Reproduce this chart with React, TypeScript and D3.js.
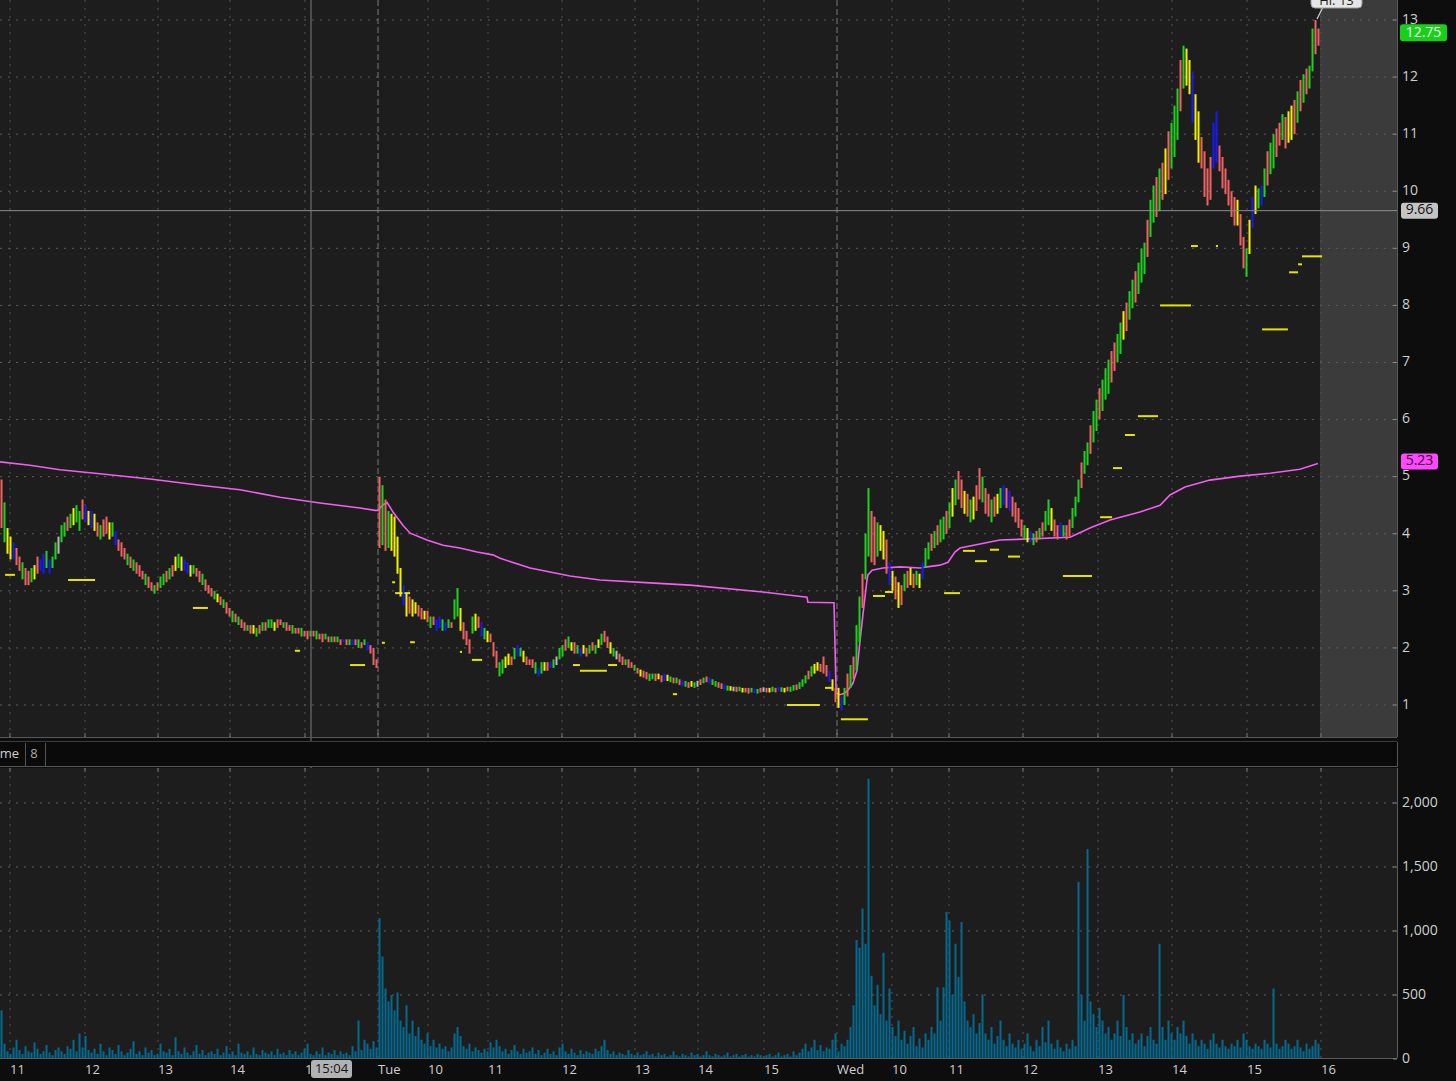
import React from 'react';
import * as d3 from 'd3';

// ---------- DATA ----------
// bar lows / highs per time slot (Mon, Tue, Wed)
const monLo = [4.10,3.85,3.65,3.55,3.55,3.45,3.35,3.20,3.10,3.10,
3.15,3.20,3.30,3.35,3.30,3.40,3.30,3.40,3.55,3.65,
3.85,3.95,4.05,4.10,4.15,4.20,4.05,4.25,4.20,4.15,
4.10,4.05,3.95,3.90,3.95,4.00,3.90,3.95,3.80,3.70,
3.60,3.55,3.45,3.40,3.35,3.30,3.25,3.20,3.10,3.05,
3.00,2.95,3.00,3.05,3.10,3.15,3.20,3.25,3.35,3.40,
3.35,3.35,3.30,3.25,3.30,3.25,3.15,3.10,3.00,2.95,
2.90,2.85,2.80,2.75,2.70,2.60,2.55,2.45,2.45,2.40,
2.35,2.30,2.30,2.25,2.25,2.20,2.25,2.30,2.30,2.35,
2.35,2.30,2.35,2.40,2.35,2.30,2.30,2.25,2.25,2.25,
2.20,2.20,2.15,2.20,2.20,2.15,2.15,2.10,2.15,2.10,
2.10,2.10,2.10,2.05,2.10,2.05,2.05,2.05,2.05,2.00,
2.00,2.05,1.95,1.90,1.70,1.65];
const monHi = [4.95,4.55,4.10,3.95,3.85,3.75,3.60,3.50,3.40,3.35,
3.40,3.45,3.60,3.55,3.65,3.70,3.55,3.60,3.85,3.95,
4.15,4.20,4.30,4.35,4.45,4.50,4.40,4.60,4.50,4.40,
4.40,4.35,4.20,4.15,4.25,4.30,4.20,4.20,4.05,3.90,
3.85,3.75,3.65,3.60,3.55,3.50,3.45,3.35,3.30,3.25,
3.15,3.10,3.15,3.25,3.30,3.35,3.40,3.45,3.60,3.65,
3.60,3.55,3.50,3.45,3.45,3.40,3.35,3.30,3.20,3.10,
3.05,3.00,2.95,2.90,2.85,2.80,2.70,2.65,2.60,2.55,
2.50,2.45,2.40,2.40,2.40,2.35,2.40,2.45,2.45,2.50,
2.50,2.45,2.50,2.50,2.45,2.45,2.40,2.40,2.35,2.35,
2.35,2.30,2.30,2.30,2.30,2.30,2.25,2.25,2.25,2.20,
2.20,2.20,2.20,2.15,2.15,2.15,2.15,2.15,2.15,2.15,
2.10,2.15,2.10,2.05,2.00,1.80];
const tueLo = [3.75,3.80,3.70,3.75,3.70,3.60,3.30,2.90,2.75,2.55,
2.60,2.55,2.60,2.55,2.50,2.50,2.45,2.35,2.40,2.30,
2.35,2.30,2.30,2.35,2.35,2.50,2.55,2.30,2.15,2.05,
1.90,2.25,2.30,2.35,2.20,2.15,2.10,2.10,1.85,1.65,
1.50,1.55,1.65,1.70,1.70,1.80,1.85,1.85,1.75,1.70,
1.70,1.65,1.55,1.50,1.55,1.60,1.60,1.65,1.65,1.70,
1.80,1.85,1.95,2.00,1.95,1.90,1.90,1.85,1.90,1.85,
1.90,1.95,1.90,2.00,2.05,2.10,2.00,1.90,1.85,1.80,
1.75,1.70,1.70,1.65,1.65,1.60,1.55,1.50,1.48,1.45,
1.42,1.45,1.42,1.45,1.40,1.42,1.42,1.40,1.38,1.38,
1.35,1.33,1.32,1.30,1.32,1.30,1.32,1.35,1.38,1.40,
1.38,1.35,1.32,1.30,1.28,1.27,1.25,1.25,1.24,1.23,
1.24,1.22,1.22,1.20,1.22,1.21,1.20,1.22,1.23,1.22,
1.22,1.23,1.22,1.24,1.23,1.22,1.24,1.23,1.25,1.26,
1.28,1.32,1.38,1.45,1.50,1.55,1.60,1.58,1.55,1.50,1.40,1.25,1.05];
const tueHi = [5.00,4.85,4.60,4.40,4.35,4.30,3.95,3.40,3.10,2.95,
2.90,2.85,2.80,2.75,2.70,2.65,2.65,2.55,2.55,2.50,
2.55,2.50,2.45,2.50,2.45,2.85,3.05,2.70,2.45,2.30,
2.15,2.55,2.60,2.55,2.45,2.35,2.30,2.25,2.10,1.95,
1.75,1.80,1.85,1.90,1.85,2.00,2.05,2.00,1.95,1.85,
1.80,1.80,1.75,1.65,1.75,1.75,1.75,1.75,1.80,1.85,
2.00,2.05,2.15,2.20,2.10,2.10,2.05,2.00,2.05,2.00,
2.05,2.10,2.05,2.15,2.25,2.30,2.20,2.10,2.00,1.95,
1.90,1.85,1.80,1.80,1.75,1.70,1.65,1.62,1.60,1.58,
1.55,1.55,1.55,1.55,1.52,1.55,1.53,1.50,1.48,1.48,
1.45,1.43,1.42,1.40,1.42,1.40,1.42,1.45,1.48,1.50,
1.48,1.45,1.42,1.40,1.38,1.36,1.34,1.33,1.32,1.32,
1.32,1.30,1.30,1.30,1.30,1.29,1.28,1.30,1.31,1.30,
1.30,1.32,1.30,1.32,1.31,1.30,1.32,1.32,1.35,1.36,
1.40,1.45,1.52,1.60,1.68,1.72,1.75,1.72,1.85,1.70,1.60,1.45,1.30];
const wedLo = [0.95,0.90,1.00,1.15,1.30,1.45,1.60,2.10,2.70,3.20,
3.60,3.50,3.45,3.60,3.70,3.55,3.30,3.10,3.00,2.85,
2.70,2.75,3.00,3.05,3.10,3.05,3.10,3.05,3.20,3.40,
3.55,3.70,3.75,3.80,3.85,3.90,4.00,4.10,4.30,4.50,
4.60,4.45,4.35,4.30,4.20,4.25,4.40,4.60,4.55,4.35,
4.30,4.20,4.30,4.35,4.45,4.50,4.45,4.40,4.30,4.20,
4.10,3.95,3.90,3.85,3.85,3.80,3.85,3.90,3.95,4.05,
4.15,4.05,3.95,3.90,3.95,3.95,3.90,3.95,4.10,4.30,
4.55,4.80,5.05,5.20,5.40,5.60,5.80,6.00,6.15,6.35,
6.45,6.65,6.85,7.00,7.15,7.40,7.55,7.75,7.95,8.05,
8.20,8.40,8.55,8.85,9.20,9.45,9.55,9.65,9.85,9.95,
10.20,10.40,10.60,10.90,11.40,11.80,11.85,11.70,11.20,10.90,
10.50,10.40,9.90,9.75,9.85,10.40,10.50,10.35,10.05,9.95,
9.75,9.55,9.40,9.40,9.05,8.65,8.50,8.90,9.35,9.60,
9.70,9.75,9.90,10.10,10.30,10.40,10.60,10.80,10.90,10.75,
10.85,10.90,11.00,11.20,11.40,11.55,11.70,11.80,12.10,12.40,12.55];
const wedHi = [1.30,1.15,1.30,1.55,1.70,1.85,2.40,2.90,3.30,4.00,
4.80,4.40,4.30,4.20,4.15,4.05,3.90,3.50,3.35,3.25,
3.15,3.10,3.30,3.35,3.40,3.30,3.35,3.30,3.50,3.75,
3.85,4.00,4.05,4.15,4.25,4.30,4.40,4.55,4.80,4.95,
5.10,4.95,4.75,4.70,4.60,4.65,4.85,5.15,5.00,4.80,
4.70,4.60,4.65,4.70,4.80,4.85,4.80,4.75,4.65,4.55,
4.45,4.25,4.15,4.10,4.05,4.00,4.05,4.10,4.20,4.40,
4.60,4.45,4.25,4.15,4.20,4.15,4.15,4.25,4.45,4.65,
4.95,5.25,5.45,5.60,5.90,6.15,6.35,6.55,6.70,6.90,
7.05,7.20,7.35,7.50,7.70,7.90,8.05,8.25,8.45,8.60,
8.75,9.00,9.10,9.50,9.85,10.10,10.25,10.40,10.50,10.75,
11.05,11.20,11.50,11.80,12.30,12.55,12.50,12.30,12.10,11.70,
11.40,10.95,10.70,10.40,10.60,11.20,11.40,10.80,10.60,10.40,
10.20,10.00,9.90,9.85,9.60,9.20,9.00,9.50,9.90,10.10,
10.05,10.10,10.40,10.70,10.85,11.00,11.10,11.20,11.35,11.30,
11.40,11.50,11.60,11.75,11.95,12.05,12.15,12.20,12.85,13.00,12.85];

// bar colour codes: g green, r red, y yellow, b blue, w grey
const monColors = 'rgyybrrgrr' + 'gyrbbgbggw' + 'ggrgyggrby' + 'byrgrrygbr' + 'rrgrgrrrgr' + 'rgrggrgryg' +
  'ybbygrrgrr' + 'rgyrgrrgrg' + 'rrgrygrgrg' + 'gyrrgrrgrr' + 'grrgrgrrgr' + 'grgrbrgbrg' + 'rgbrrr';
const tueColors = 'rgrgyyyyby' + 'ryyrryrgrb' + 'bgbgrggyrr' + 'rgyrbgyrrr' + 'ggyyrgbgyr' + 'rrgbgyrbgw' +
  'ggrgyrgbyr' + 'grgygrrygw' + 'rrgrrgryrr' + 'ggryrbygrg' + 'rbgrygwrgr' + 'bggrrbgywr' + 'gyrrgbgrwr' +
  'ygrbgyrggr' + 'gggrgyyrrrbyr';
const wedColors = 'ybgrgrggrg' + 'grrgyyrbyr' + 'yrgryrgybg' + 'grgrggrgyg' + 'rryrgyrrgr' + 'rgrygbrbrr' +
  'rrgybgrgrg' + 'gyrrbgrrgg' + 'grggrggrgg' + 'grrggyrggr' + 'gggrggrgry' + 'rgggrgyyby' + 'yrrrrbbrrr' +
  'rrryrrgyby' + 'gbgrggrrgr' + 'yyrgrgrggrr';

const monVol = [380,120,60,40,90,150,70,40,100,60,50,130,80,40,60,110,50,30,70,90,
60,40,100,80,150,60,200,90,180,70,50,80,40,120,60,30,90,70,40,110,
60,30,50,80,140,40,60,30,90,50,70,30,40,120,60,50,80,30,170,60,
40,90,50,30,60,110,40,70,30,50,60,40,80,30,50,100,40,60,30,120,
50,40,60,30,90,40,30,70,50,40,60,30,80,40,50,30,70,40,60,30,
50,80,120,40,30,60,40,90,30,50,40,70,30,60,40,50,30,100,60,300,
70,150,120,80,140,90];
const tueVol = [1100,800,550,450,500,380,520,300,250,420,200,300,180,250,150,120,200,100,150,90,
120,80,100,60,90,200,250,180,100,80,120,60,90,70,50,80,60,130,90,150,
100,60,80,40,70,110,60,40,80,50,60,90,40,70,30,50,80,40,60,30,
90,120,60,40,80,50,30,70,40,60,50,40,80,60,100,150,70,40,60,30,
50,40,30,70,40,30,50,30,40,60,30,40,20,50,30,40,20,30,60,30,
20,40,30,20,50,30,40,20,30,60,30,20,40,30,20,30,50,20,30,40,
20,30,40,20,30,20,40,30,20,30,40,20,30,50,20,30,40,20,60,30,
50,80,120,60,90,150,70,110,60,90,80,150,200];
const wedVol = [60,120,100,150,250,420,930,870,1175,900,2190,650,420,580,350,830,300,550,250,180,
300,150,220,120,180,250,100,160,90,200,150,250,200,560,300,560,1150,1080,500,900,
640,1070,450,300,250,350,200,280,505,200,150,250,120,180,300,150,100,200,120,90,
150,80,120,200,100,60,150,100,250,130,300,120,80,150,90,60,120,80,150,100,
1384,500,300,1640,450,350,250,400,300,200,250,150,200,300,180,500,250,150,200,120,
150,200,100,180,250,150,120,900,250,150,300,200,150,250,200,300,180,120,200,150,
100,150,120,80,150,200,120,90,150,100,80,120,100,150,90,200,150,100,80,120,
100,80,150,120,90,550,120,80,100,150,120,80,100,150,90,60,120,80,100,150,120];

// VWAP study (slot, price)
const vwapSlot = [0,10,20,33.3,50,66.7,80,93.3,106.7,120,125,
126,127.5,129,131,134.3,136.7,142.3,147.7,153.3,159,164.3,166.7,176.7,190,200,216.7,230,254.3,269,269.3,278,
278.7,280,281.7,283.3,284.3,285.7,286.7,287.7,289,289.3,290.7,294.3,300,306.7,309,313.3,316,318.3,320,
333.3,343.3,356.7,363.3,370,380,386.7,390,395,403.3,413.3,423.3,433.3,439.3];
const vwapPrice = [5.26,5.20,5.12,5.05,4.96,4.85,4.77,4.64,4.54,4.45,4.41,
4.41,4.50,4.55,4.38,4.15,4.01,3.89,3.80,3.75,3.68,3.63,3.57,3.40,3.26,3.19,3.14,3.10,2.98,2.89,2.80,2.79,
1.21,1.18,1.21,1.30,1.38,1.61,2.14,2.61,3.19,3.28,3.36,3.40,3.42,3.40,3.42,3.45,3.50,3.68,3.75,
3.89,3.91,3.94,4.10,4.24,4.38,4.50,4.68,4.82,4.94,5.01,5.06,5.13,5.23];

// yellow price-level marks
const levelStart = [1.7,22.7,64.3,98.3,116.7,127.3,130.7,131.7,136.7,153.3,157.3,191,193.3,202.7,224.3,262.3,275,280.3,291,295,314.7,321,325,330,336,354.3,366.7,371,375,379.3,386.7,397,405.3,420.7,429.7,432.7,434];
const levelEnd = [5,31.7,69.3,100,121.7,128.3,131.7,136.7,138.3,154,160.7,193.3,202.3,205.7,225.7,273.3,277.3,289.3,295,297.7,320,325,329,333,340,364,370.7,374,378.3,386,397,399.3,406,429.3,432.7,434,440.7];
const levelPrice = [3.28,3.19,2.70,1.95,1.70,2.09,3.15,2.96,2.10,1.93,1.79,1.70,1.60,1.70,1.19,1.00,1.30,0.75,2.91,2.98,2.96,3.70,3.52,3.72,3.60,3.26,4.29,5.15,5.73,6.06,8.00,9.04,9.04,7.58,8.58,8.72,8.86];

const priceTicks = [1,2,3,4,5,6,7,8,9,10,11,12,13];
const volTicks = [0,500,1000,1500,2000];
const timeTickSlots = [3.33,28.33,52.67,76.67,101.67,126,142.67,162.67,187.33,211.67,232.67,254.67,279,297.33,316.33,341,366,390.67,415.67,440.33];
const timeTickLabels = ['11','12','13','14','15','Tue','10','11','12','13','14','15','Wed','10','11','12','13','14','15','16'];
const dayBreakSlots = [126, 279];
const lastPrice = 12.75;
const highPrice = 13;
const crossPrice = 9.66;
const crossSlot = 103.67;
const crossTime = '15:04';
const vwapLast = 5.23;
const NSLOT = 440;

const COLORS: Record<string, string> = { g: '#1fd11f', r: '#ee6262', y: '#f2f200', b: '#1818ff', w: '#b8b8b8' };
const FONT = '"Open Sans", "Noto Sans", sans-serif';

export default function App() {
  const lo = [...monLo, ...tueLo, ...wedLo];
  const hi = [...monHi, ...tueHi, ...wedHi];
  const cols = (monColors + tueColors + wedColors).split('');
  const vol = [...monVol, ...tueVol, ...wedVol];

  const PR = 1397; // right edge of plots
  const priceBottom = 737;
  const volTop = 768, volBottom = 1058;

  const x = d3.scaleLinear().domain([0, NSLOT]).range([0, 1320]);
  const y = d3.scaleLinear().domain([1, 13]).range([705, 20]);
  const yv = d3.scaleLinear().domain([0, 2000]).range([1059, 803]);
  const bw = (x(1) - x(0)) * 0.67;

  const vwapLine = d3.line<number>().x((_, i) => x(vwapSlot[i])).y(d => y(d))(vwapPrice) || '';

  const dayBreakSet = new Set(dayBreakSlots);

  return (
    <svg width={1456} height={1081} style={{ position: 'absolute', left: 0, top: 0, background: '#0d0d0d' }} fontFamily={FONT}>
      <defs>
        <clipPath id="cp-price"><rect x={0} y={0} width={PR} height={priceBottom} /></clipPath>
        <clipPath id="cp-vol"><rect x={0} y={volTop} width={PR} height={volBottom - volTop} /></clipPath>
      </defs>

      {/* price panel */}
      <rect x={0} y={0} width={PR} height={priceBottom} fill="#1d1d1d" />
      <rect x={x(NSLOT)} y={0} width={PR - x(NSLOT)} height={priceBottom} fill="#3b3b3b" />
      <g clipPath="url(#cp-price)">
        {priceTicks.map(p => (
          <line key={'hp' + p} x1={0} x2={PR} y1={y(p)} y2={y(p)} stroke="#5c5c5c" strokeDasharray="2,6" />
        ))}
        {timeTickSlots.map((s, i) => dayBreakSet.has(s) ? null : (
          <line key={'vp' + i} x1={x(s)} x2={x(s)} y1={0} y2={priceBottom} stroke="#555" strokeDasharray="2,6" />
        ))}
        {dayBreakSlots.map(s => (
          <line key={'db' + s} x1={x(s)} x2={x(s)} y1={0} y2={priceBottom} stroke="#7a7a7a" strokeDasharray="6,3" />
        ))}
        {/* level marks */}
        {levelPrice.map((p, i) => (
          <rect key={'lv' + i} x={x(levelStart[i])} y={y(p) - 1} width={Math.max(2, x(levelEnd[i]) - x(levelStart[i]))} height={2} fill="#e4e400" />
        ))}
        {/* VWAP */}
        <path d={vwapLine} fill="none" stroke="#f25ef2" strokeWidth={1.6} />
        {/* bars */}
        {lo.map((l, i) => {
          const top = y(hi[i]);
          const h = Math.max(1.5, y(l) - top);
          return <rect key={'c' + i} x={x(i) + 0.5} y={top} width={bw} height={h} fill={COLORS[cols[i]] || COLORS.r} />;
        })}
        {/* crosshair */}
        <line x1={0} x2={PR} y1={y(crossPrice)} y2={y(crossPrice)} stroke="#8c8c8c" strokeWidth={1} />
      </g>
      <line x1={x(crossSlot)} x2={x(crossSlot)} y1={0} y2={volBottom} stroke="#7e7e7e" strokeWidth={1} />

      {/* hi bubble */}
      <g>
        <line x1={x(NSLOT - 0.5) + 4} y1={8} x2={x(NSLOT - 1)} y2={y(highPrice) - 1} stroke="#cfcfcf" strokeWidth={1.2} />
        <rect x={1311} y={-10} width={51} height={18} rx={4} fill="#e6e6e6" stroke="#9a9a9a" />
        <text x={1336.5} y={2} textAnchor="middle" dominantBaseline="middle" fontSize={13} fill="#1a1a1a">{'Hi: ' + highPrice}</text>
      </g>

      {/* price panel borders */}
      <line x1={PR + 0.5} x2={PR + 0.5} y1={0} y2={priceBottom} stroke="#5a5a5a" />
      <line x1={0} x2={PR} y1={priceBottom + 0.5} y2={priceBottom + 0.5} stroke="#575757" />
      <line x1={0} x2={PR} y1={741.5} y2={741.5} stroke="#3c3c3c" />
      {timeTickSlots.map((s, i) => (
        <line key={'tk1' + i} x1={x(s)} x2={x(s)} y1={priceBottom - 4} y2={priceBottom} stroke="#777" />
      ))}

      {/* right price axis */}
      {priceTicks.map(p => (
        <g key={'pl' + p}>
          <line x1={PR - 4} x2={PR} y1={y(p)} y2={y(p)} stroke="#888" />
          <text x={1402} y={y(p)} dominantBaseline="middle" fontSize={14} fill="#cfcfcf">{p}</text>
        </g>
      ))}
      {/* value bubbles */}
      <rect x={1400} y={y(lastPrice) - 10} width={47} height={17} rx={3} fill="#19cf19" />
      <text x={1423.5} y={y(lastPrice) - 1.5} textAnchor="middle" dominantBaseline="middle" fontSize={14} fill="#f4fff4">{lastPrice.toFixed(2)}</text>
      <rect x={1401} y={y(crossPrice) - 8} width={37} height={16} rx={3} fill="#c4c4c4" />
      <text x={1419.5} y={y(crossPrice)} textAnchor="middle" dominantBaseline="middle" fontSize={14} fill="#111">{crossPrice.toFixed(2)}</text>
      <rect x={1401} y={y(vwapLast) - 10} width={37} height={16} rx={3} fill="#ff48ff" />
      <text x={1419.5} y={y(vwapLast) - 2} textAnchor="middle" dominantBaseline="middle" fontSize={14} fill="#2a002a">{vwapLast.toFixed(2)}</text>

      {/* volume header strip */}
      <rect x={0} y={742} width={PR} height={24} fill="#0a0a0a" />
      <line x1={0} x2={PR} y1={766.5} y2={766.5} stroke="#555" />
      <line x1={PR + 0.5} x2={PR + 0.5} y1={742} y2={767} stroke="#555" />
      <text x={19} y={755} textAnchor="end" dominantBaseline="middle" fontSize={13} fill="#cfcfcf">Volume</text>
      <line x1={25.5} x2={25.5} y1={743} y2={766} stroke="#555" />
      <text x={34} y={755} textAnchor="middle" dominantBaseline="middle" fontSize={13} fill="#a8a8a8">8</text>
      <line x1={45.5} x2={45.5} y1={743} y2={766} stroke="#555" />

      {/* volume panel */}
      <rect x={0} y={volTop} width={PR} height={volBottom - volTop} fill="#1d1d1d" />
      <g clipPath="url(#cp-vol)">
        {volTicks.filter(v => v > 0).map(v => (
          <line key={'hv' + v} x1={0} x2={PR} y1={yv(v)} y2={yv(v)} stroke="#5c5c5c" strokeDasharray="2,6" />
        ))}
        {timeTickSlots.map((s, i) => (
          <line key={'vv' + i} x1={x(s)} x2={x(s)} y1={volTop} y2={volBottom} stroke="#555" strokeDasharray="2,6" />
        ))}
        {vol.map((v, i) => (
          <rect key={'v' + i} x={x(i) + 0.5} y={yv(v)} width={bw} height={yv(0) - yv(v)} fill="#05698f" />
        ))}
      </g>
      {timeTickSlots.map((s, i) => (
        <line key={'tk2' + i} x1={x(s)} x2={x(s)} y1={volTop} y2={volTop + 4} stroke="#777" />
      ))}
      <line x1={PR + 0.5} x2={PR + 0.5} y1={volTop} y2={volBottom} stroke="#5a5a5a" />
      <line x1={0} x2={PR} y1={volBottom + 0.5} y2={volBottom + 0.5} stroke="#5a5a5a" />
      {volTicks.map(v => (
        <g key={'vl' + v}>
          <line x1={PR - 4} x2={PR} y1={yv(v)} y2={yv(v)} stroke="#888" />
          <text x={1402} y={yv(v)} dominantBaseline="middle" fontSize={14} fill="#cfcfcf">{d3.format(',')(v)}</text>
        </g>
      ))}

      {/* time axis */}
      {timeTickSlots.map((s, i) => (
        <text key={'tl' + i} x={x(s)} y={1071} dominantBaseline="middle" fontSize={13} fill="#cfcfcf">{timeTickLabels[i]}</text>
      ))}
      <rect x={x(crossSlot)} y={1060} width={41} height={18} rx={3} fill="#b2b2b2" />
      <text x={x(crossSlot) + 20.5} y={1069.5} textAnchor="middle" dominantBaseline="middle" fontSize={13} fill="#141414">{crossTime}</text>
    </svg>
  );
}
